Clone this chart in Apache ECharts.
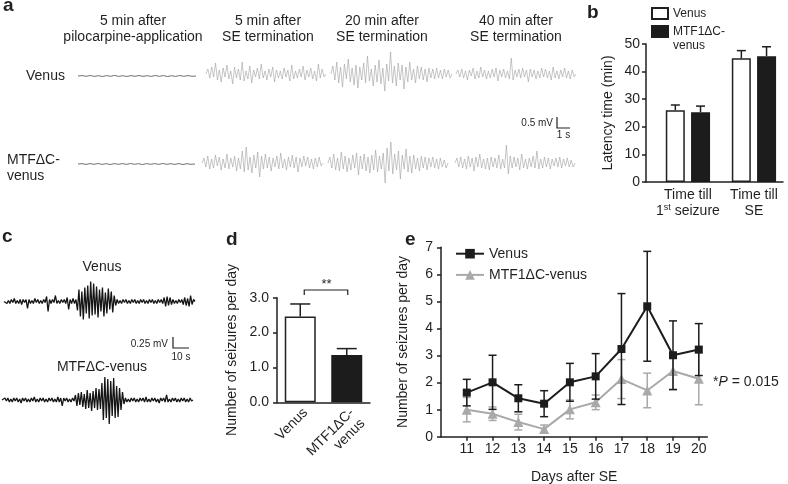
<!DOCTYPE html>
<html><head><meta charset="utf-8">
<script src="https://cdn.jsdelivr.net/npm/echarts@6/dist/echarts.min.js"></script>
<style>html,body{margin:0;padding:0;background:#fff}#c{width:788px;height:484px}</style>
</head><body><div id="c"></div>
<script>
// ================= DATA =================
// Panel b
const bCategories = ['Time till\n1st seizure', 'Time till\nSE'];
const bVenus = [26.0, 44.8];
const bVenusErr = [1.9, 2.8];
const bMtf = [25.3, 45.6];
const bMtfErr = [2.2, 3.4];
const bLegend = ['Venus', 'MTF1ΔC-\nvenus'];

// Panel d
const dCategories = ['Venus', 'MTF1ΔC-\nvenus'];
const dValues = [2.46, 1.36];
const dErr = [0.36, 0.18];
const dSignif = '**';

// Panel e
const eDays = [11, 12, 13, 14, 15, 16, 17, 18, 19, 20];
const eVenus = [1.63, 2.01, 1.42, 1.22, 2.01, 2.23, 3.24, 4.82, 3.01, 3.22];
const eVenusErr = [0.49, 1.0, 0.5, 0.48, 0.7, 0.84, 2.05, 2.03, 1.27, 0.96];
const eMtf = [1.0, 0.85, 0.54, 0.28, 1.01, 1.27, 2.13, 1.71, 2.43, 2.14];
const eMtfErr = [0.45, 0.25, 0.29, 0.15, 0.35, 0.27, 0.72, 0.64, 0.68, 0.96];
const eLegend = ['Venus', 'MTF1ΔC-venus'];
const eStat = '*{i|P} = 0.015';

// Panel a headers / rows
const aHeaders = ['5 min after\npilocarpine-application', '5 min after\nSE termination', '20 min after\nSE termination', '40 min after\nSE termination'];
const aRows = ['Venus', 'MTFΔC-\nvenus'];

// Panel a EEG traces (amplitude samples, read by eye)
const aVenusFlat = [0,0.4,-0.3,0.5,-0.4,0.3,-0.5,0.4,-0.3,0.6,-0.4,0.3,-0.5,0.4,-0.3,0.5,-0.4,0.3,-0.4,0.5,-0.3,0.4,-0.5,0.3,-0.4,0.5,-0.3,0.4,-0.3,0];
const aVenus5 = [0,5,-4,7,-3,11,-6,4,-8,6,-3,9,-5,3,-10,7,-4,5,-6,12,-7,3,-5,8,-9,4,-3,6,-5,10,-4,3,-6,5,-3,7,-8,4,-4,3,-5,6,-3,4,-7,9,-5,3,-4,5,-3,8,-6,4,-3,6,-5,3,-7,10,-4,5,-3,0];
const aVenus20 = [0,8,-6,12,-9,7,-13,10,-5,15,-8,6,-11,9,-14,7,-6,11,-9,18,-7,5,-12,9,-8,14,-10,6,-17,10,-7,22,-9,8,-12,11,-6,9,-15,7,-8,12,-6,5,-9,8,-5,7,-6,5,-8,6,-4,5,-5,6,-4,4,-5,5,-3,4,-4,0];
const aVenus40 = [0,4,-3,5,-4,3,-6,4,-2,6,-5,3,-4,7,-3,4,-5,3,-4,5,-3,6,-7,4,-3,5,-4,3,-5,16,-6,4,-3,5,-4,6,-3,4,-8,5,-3,4,-5,3,-4,6,-3,5,-4,3,-6,7,-4,3,-5,4,-3,6,-4,3,-5,4,-3,0];
const aMtfFlat = [0,0.3,-0.4,0.4,-0.3,0.5,-0.4,0.3,-0.5,0.4,-0.3,0.4,-0.4,0.5,-0.3,0.3,-0.5,0.4,-0.3,0.4,-0.4,0.5,-0.3,0.3,-0.4,0.4,-0.5,0.3,-0.3,0];
const aMtf5 = [0,5,-4,7,-6,4,-5,8,-3,6,-7,4,-5,9,-6,5,-4,7,-8,5,-6,12,-9,16,-7,6,-10,8,-5,11,-14,7,-6,9,-5,6,-8,5,-4,7,-6,10,-5,4,-7,6,-4,8,-5,6,-9,5,-4,7,-3,6,-5,4,-6,5,-4,6,-3,0];
const aMtf20 = [0,6,-5,9,-7,5,-8,11,-6,7,-9,5,-7,8,-5,10,-12,7,-6,9,-8,6,-10,8,-7,13,-9,7,-6,10,-20,15,-8,21,-11,9,-7,12,-16,8,-6,14,-9,7,-10,8,-6,5,-8,7,-5,6,-7,5,-4,6,-5,4,-6,5,-4,3,-5,0];
const aMtf40 = [0,5,-4,6,-5,4,-6,7,-4,5,-8,6,-4,9,-5,4,-6,5,-7,6,-4,5,-5,8,-6,4,-5,18,-11,7,-5,6,-4,5,-7,9,-5,4,-6,5,-4,7,-5,12,-6,4,-5,6,-4,5,-6,4,-3,5,-4,6,-5,4,-3,5,-4,3,-4,0];

// Panel c traces
const cVenus = [0,2,-2,1,-2,2,-1,3,-2,1,-2,2,-3,2,-1,2,-7,2,-2,1,-2,3,-1,2,-2,1,-2,2,-1,5,-10,2,-2,2,-1,6,-2,1,-2,2,-1,2,-2,4,-8,2,-2,3,-2,2,
  -9,12,-15,10,-18,14,-12,16,-17,20,-14,18,-13,15,-16,12,-10,14,-15,9,-12,13,-8,10,-11,6,-4,
  2,-2,1,-2,2,-1,2,-2,1,-2,2,-1,2,-2,1,-2,2,-1,2,-2,1,-2,2,-1,2,-2,1,-2,2,-1,2,-2,
  4,-5,5,-4,4,-3,2,-2,1,-2,2,-1,2,-3,4,-4,3,-5,6,-3,2,0];
const cMtf = [0,-2,2,-1,2,-2,1,-2,2,-1,2,-2,1,-3,2,-1,2,-2,1,-2,2,-1,3,-2,1,-2,2,-1,2,-2,1,-2,2,-1,2,-2,1,-2,3,-2,2,-6,2,-1,2,-2,1,-2,2,-1,
  5,-6,7,-5,8,-7,6,-9,10,-8,7,-11,9,-8,12,-10,11,-9,17,-20,23,-18,21,-24,19,-16,22,-18,14,-17,12,-10,8,-4,
  2,-2,1,-2,2,-1,2,-2,1,-2,2,-1,2,-2,3,-2,1,-2,2,-1,2,-2,1,-3,2,-1,2,-2,5,-2,1,-2,2,-1,2,-2,1,-2,2,-1,2,-2,1,-2,2,-1,0];

// ================= CHART =================
const FONT = "'Liberation Sans', Arial, Helvetica, sans-serif";
const TXT = '#231f20';
const BLACK = '#1c1c1c';
const GREY = '#a9a9a9';

const chart = echarts.init(document.getElementById('c'), null, {renderer: 'canvas', width: 788, height: 484});

const grids = [], xAxes = [], yAxes = [], series = [];
const axisTxt = {color: TXT, fontSize: 14, fontFamily: FONT};

function errRender(color, lw, capW, offset, twoSided) {
  return function (params, api) {
    const x = api.value(0), lo = api.value(1), hi = api.value(2);
    const a = api.coord([x, lo]), b = api.coord([x, hi]);
    const cx = a[0] + offset;
    const st = () => ({stroke: color, lineWidth: lw});
    const ch = [
      {type: 'line', shape: {x1: cx, y1: a[1], x2: cx, y2: b[1]}, style: st()},
      {type: 'line', shape: {x1: cx - capW / 2, y1: b[1], x2: cx + capW / 2, y2: b[1]}, style: st()}
    ];
    if (twoSided) ch.push({type: 'line', shape: {x1: cx - capW / 2, y1: a[1], x2: cx + capW / 2, y2: a[1]}, style: st()});
    return {type: 'group', children: ch};
  };
}

// ---- panel b (grid 0)
grids.push({left: 646, top: 44, width: 137, height: 138, containLabel: false, outerBoundsMode: 'none'});
xAxes.push({gridIndex: 0, type: 'value', min: -0.635, max: 1.44, splitLine: {show: false},
  axisLine: {show: true, onZero: false, lineStyle: {color: TXT, width: 1.5}}, axisTick: {show: false},
  axisLabel: Object.assign({customValues: [0, 1], margin: 5, lineHeight: 16,
    formatter: v => (bCategories[Math.round(v)] || '').replace(/(\d)(st|nd|rd|th)\b/, '$1{sup|$2}'),
    rich: {sup: {fontSize: 9, verticalAlign: 'top', lineHeight: 16, color: TXT, fontFamily: FONT}}}, axisTxt)});
yAxes.push({gridIndex: 0, type: 'value', min: 0, max: 50, interval: 10, splitLine: {show: false},
  axisLine: {show: true, onZero: false, lineStyle: {color: TXT, width: 1.5}}, axisTick: {show: true, length: 4, lineStyle: {color: TXT, width: 1.5}},
  axisLabel: Object.assign({margin: 6}, axisTxt),
  name: 'Latency time (min)', nameLocation: 'middle', nameGap: 31, nameRotate: 90, nameTextStyle: axisTxt});
series.push({type: 'bar', name: 'bVenus', xAxisIndex: 0, yAxisIndex: 0, data: bVenus.map((v, i) => [i, v]),
  barWidth: 19, barGap: '33%', itemStyle: {color: '#fff', borderColor: TXT, borderWidth: 1.5}, z: 2});
series.push({type: 'bar', name: 'bMtf', xAxisIndex: 0, yAxisIndex: 0, data: bMtf.map((v, i) => [i, v]),
  barWidth: 19, barGap: '33%', itemStyle: {color: BLACK, borderColor: BLACK, borderWidth: 1.5}, z: 2});
series.push({type: 'custom', xAxisIndex: 0, yAxisIndex: 0, clip: false, z: 3, encode: {x: 0, y: [1, 2]},
  data: bVenus.map((v, i) => [i, v, v + bVenusErr[i]]), renderItem: errRender(TXT, 1.5, 9, -12.6, false)});
series.push({type: 'custom', xAxisIndex: 0, yAxisIndex: 0, clip: false, z: 3, encode: {x: 0, y: [1, 2]},
  data: bMtf.map((v, i) => [i, v, v + bMtfErr[i]]), renderItem: errRender(BLACK, 1.5, 9, 12.6, false)});

// ---- panel d (grid 1)
grids.push({left: 277, top: 297.7, width: 93, height: 104.6, containLabel: false, outerBoundsMode: 'none'});
xAxes.push({gridIndex: 1, type: 'category', data: dCategories, boundaryGap: true,
  axisLine: {show: true, lineStyle: {color: TXT, width: 1.5}}, axisTick: {show: false},
  axisLabel: Object.assign({rotate: 45, margin: 3, lineHeight: 15, interval: 0, verticalAlign: 'top'}, axisTxt)});
yAxes.push({gridIndex: 1, type: 'value', min: 0, max: 3, interval: 1, splitLine: {show: false},
  axisLine: {show: true, onZero: false, lineStyle: {color: TXT, width: 1.5}}, axisTick: {show: true, length: 4, lineStyle: {color: TXT, width: 1.5}},
  axisLabel: Object.assign({margin: 8, formatter: v => v.toFixed(1)}, axisTxt),
  name: 'Number of seizures per day', nameLocation: 'middle', nameGap: 38, nameRotate: 90, nameTextStyle: axisTxt});
series.push({type: 'bar', xAxisIndex: 1, yAxisIndex: 1, barWidth: 31, z: 2,
  data: dValues.map((v, i) => ({value: v, itemStyle: i === 0 ? {color: '#fff', borderColor: TXT, borderWidth: 1.5} : {color: BLACK, borderColor: BLACK, borderWidth: 1.5}}))});
series.push({type: 'custom', xAxisIndex: 1, yAxisIndex: 1, clip: false, z: 3, encode: {x: 0, y: [1, 2]},
  data: dValues.map((v, i) => [i, v, v + dErr[i]]), renderItem: errRender(TXT, 1.5, 20, 0, false)});
series.push({type: 'custom', xAxisIndex: 1, yAxisIndex: 1, clip: false, z: 3, encode: {x: 0, y: 1},
  data: [[0, Math.max(...dValues.map((v, i) => v + dErr[i]))]],
  renderItem: function (params, api) {
    const p0 = api.coord([0, api.value(1)]), p1 = api.coord([1, api.value(1)]);
    const y = p0[1] - 14;
    return {type: 'group', children: [
      {type: 'polyline', shape: {points: [[p0[0] + 4, y + 5], [p0[0] + 4, y], [p1[0] + 1, y], [p1[0] + 1, y + 5]]}, style: {stroke: TXT, lineWidth: 1.2, fill: null}},
      {type: 'text', x: (p0[0] + p1[0]) / 2 + 3, y: y - 6, style: {text: dSignif, fill: TXT, font: '13px ' + FONT, align: 'center', verticalAlign: 'middle'}}
    ]};
  }});

// ---- panel e (grid 2)
grids.push({left: 441, top: 247.3, width: 266.3, height: 189.4, containLabel: false, outerBoundsMode: 'none'});
xAxes.push({gridIndex: 2, type: 'value', min: 10, max: 20.33, splitLine: {show: false},
  axisLine: {show: true, onZero: false, lineStyle: {color: TXT, width: 1.5}},
  axisTick: {show: true, customValues: eDays, length: 4, lineStyle: {color: TXT, width: 1.5}},
  axisLabel: Object.assign({customValues: eDays, margin: 5}, axisTxt),
  name: 'Days after SE', nameLocation: 'middle', nameGap: 33, nameTextStyle: axisTxt});
yAxes.push({gridIndex: 2, type: 'value', min: 0, max: 7, interval: 1, splitLine: {show: false},
  axisLine: {show: true, onZero: false, lineStyle: {color: TXT, width: 1.5}}, axisTick: {show: true, length: 4, lineStyle: {color: TXT, width: 1.5}},
  axisLabel: Object.assign({margin: 8}, axisTxt),
  name: 'Number of seizures per day', nameLocation: 'middle', nameGap: 31, nameRotate: 90, nameTextStyle: axisTxt});
series.push({type: 'custom', xAxisIndex: 2, yAxisIndex: 2, clip: false, z: 1, encode: {x: 0, y: [1, 2]},
  data: eDays.map((d, i) => [d, eMtf[i] - eMtfErr[i], eMtf[i] + eMtfErr[i]]), renderItem: errRender(GREY, 1.5, 8, 0, true)});
series.push({type: 'line', name: 'eMtf', xAxisIndex: 2, yAxisIndex: 2, z: 2, symbol: 'triangle', symbolSize: 10,
  data: eDays.map((d, i) => [d, eMtf[i]]), itemStyle: {color: GREY}, lineStyle: {color: GREY, width: 2}});
series.push({type: 'custom', xAxisIndex: 2, yAxisIndex: 2, clip: false, z: 3, encode: {x: 0, y: [1, 2]},
  data: eDays.map((d, i) => [d, eVenus[i] - eVenusErr[i], eVenus[i] + eVenusErr[i]]), renderItem: errRender(BLACK, 1.5, 8, 0, true)});
series.push({type: 'line', name: 'eVenus', xAxisIndex: 2, yAxisIndex: 2, z: 4, symbol: 'rect', symbolSize: 8,
  data: eDays.map((d, i) => [d, eVenus[i]]), itemStyle: {color: BLACK}, lineStyle: {color: BLACK, width: 2}});

// ---- EEG traces
const traces = [
  {d: aVenusFlat, left: 78, width: 118, cy: 76, color: '#707070', lw: 1},
  {d: aVenus5, left: 206, width: 120, cy: 74, color: '#a0a0a0', lw: 0.6},
  {d: aVenus20, left: 331, width: 121, cy: 74, color: '#a0a0a0', lw: 0.6},
  {d: aVenus40, left: 456, width: 120, cy: 74, color: '#a0a0a0', lw: 0.6},
  {d: aMtfFlat, left: 78, width: 117, cy: 164, color: '#707070', lw: 1},
  {d: aMtf5, left: 202, width: 121, cy: 163, color: '#a0a0a0', lw: 0.6},
  {d: aMtf20, left: 328, width: 120, cy: 163, color: '#a0a0a0', lw: 0.6},
  {d: aMtf40, left: 455, width: 120, cy: 163, color: '#a0a0a0', lw: 0.6},
  {d: cVenus, left: 4, width: 191, cy: 301.5, color: '#151515', lw: 1.3},
  {d: cMtf, left: 2, width: 191, cy: 400, color: '#151515', lw: 1.3}
];
traces.forEach(t => {
  const gi = grids.length;
  grids.push({left: t.left, top: t.cy - 25, width: t.width, height: 50, containLabel: false, outerBoundsMode: 'none'});
  xAxes.push({gridIndex: gi, type: 'value', show: false, min: 0, max: t.d.length - 1});
  yAxes.push({gridIndex: gi, type: 'value', show: false, min: -25, max: 25});
  series.push({type: 'line', xAxisIndex: gi, yAxisIndex: gi, showSymbol: false, silent: true,
    data: t.d.map((v, i) => [i, v]), lineStyle: {color: t.color, width: t.lw}});
});

// ---- text / annotation graphics
function txt(x, y, text, o) {
  o = o || {};
  return {type: 'text', x: x, y: y, silent: true, style: Object.assign({text: text, fill: TXT,
    font: (o.weight || 'normal') + ' ' + (o.size || 14) + 'px ' + FONT, align: o.align || 'left',
    verticalAlign: 'middle', lineHeight: o.lh || undefined}, o.style || {})};
}
const graphics = [
  txt(3, 6, 'a', {weight: 'bold', size: 19}),
  txt(587, 13, 'b', {weight: 'bold', size: 19}),
  txt(2, 237, 'c', {weight: 'bold', size: 19}),
  txt(226, 240, 'd', {weight: 'bold', size: 19}),
  txt(405, 240, 'e', {weight: 'bold', size: 19}),
  txt(133, 29, aHeaders[0], {align: 'center', lh: 16.6}),
  txt(268, 29, aHeaders[1], {align: 'center', lh: 16.6}),
  txt(382, 29, aHeaders[2], {align: 'center', lh: 16.6}),
  txt(516, 29, aHeaders[3], {align: 'center', lh: 16.6}),
  txt(26, 76, aRows[0]),
  txt(7, 168, aRows[1], {lh: 16}),
  txt(553, 123, '0.5 mV', {size: 10, align: 'right'}),
  txt(563.5, 135, '1 s', {size: 10, align: 'center'}),
  {type: 'polyline', silent: true, shape: {points: [[557, 117], [557, 128], [570, 128]]}, style: {stroke: TXT, lineWidth: 1.2, fill: null}},
  txt(102, 267, 'Venus', {align: 'center'}),
  txt(102, 367, 'MTFΔC-venus', {align: 'center'}),
  txt(168, 344, '0.25 mV', {size: 10, align: 'right'}),
  txt(181, 357, '10 s', {size: 10, align: 'center'}),
  {type: 'polyline', silent: true, shape: {points: [[173, 337], [173, 348], [189, 348]]}, style: {stroke: TXT, lineWidth: 1.2, fill: null}},
  txt(713, 382, eStat, {style: {rich: {i: {fontStyle: 'italic', fontSize: 14, fontFamily: FONT, fill: TXT}}}})
];

const legendMap = {bVenus: bLegend[0], bMtf: '\n' + bLegend[1], eVenus: eLegend[0], eMtf: eLegend[1]};

chart.setOption({
  animation: false,
  backgroundColor: '#fff',
  textStyle: {fontFamily: FONT},
  grid: grids, xAxis: xAxes, yAxis: yAxes, series: series,
  legend: [
    {data: [{name: 'bVenus', icon: 'rect'}, {name: 'bMtf', icon: 'rect'}],
      orient: 'vertical', left: 651, top: 6.5, padding: 0, itemWidth: 16, itemHeight: 11, itemGap: -10,
      selectedMode: false, formatter: n => legendMap[n], textStyle: {fontSize: 12, color: TXT, fontFamily: FONT, lineHeight: 14}},
    {data: ['eVenus', 'eMtf'], orient: 'vertical', left: 455, top: 246.7, padding: 0, itemWidth: 28, itemHeight: 12, itemGap: 7.2,
      selectedMode: false, formatter: n => legendMap[n], textStyle: {fontSize: 14, color: TXT, fontFamily: FONT}}
  ],
  graphic: graphics
});
</script>
</body></html>
